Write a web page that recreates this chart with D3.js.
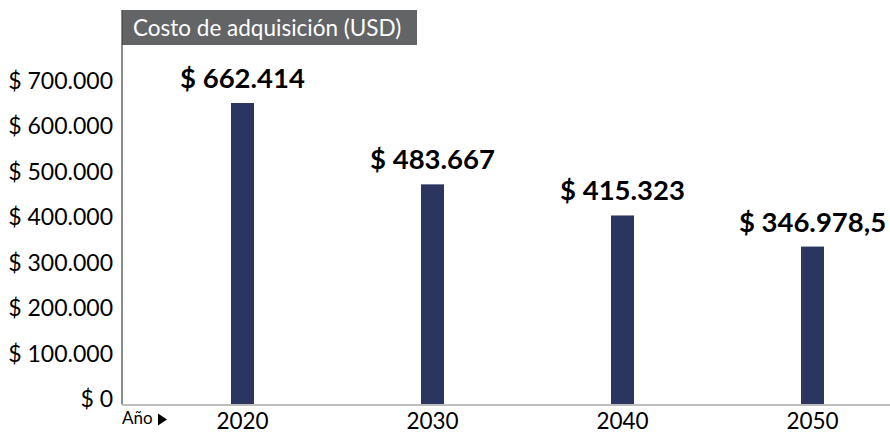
<!DOCTYPE html>
<html>
<head>
<meta charset="utf-8">
<script src="https://cdn.jsdelivr.net/npm/d3@7"></script>
<style>
  body { margin: 0; background: #fff; }
  svg { display: block; font-family: Lato, "Noto Sans", sans-serif; }
</style>
</head>
<body>
<div id="chart"></div>
<script>
const years = ['2020', '2030', '2040', '2050'];
const costs = [662414, 483667, 415323, 346978.5];
const yTicks = [0, 100000, 200000, 300000, 400000, 500000, 600000, 700000];
const title = 'Costo de adquisición (USD)';
const xLabel = 'Año';

const width = 890;
const height = 434;
const plot = { left: 122, right: 890, top: 10, bottom: 404.5 };

const locale = d3.formatLocale({ decimal: ',', thousands: '.', grouping: [3], currency: ['$ ', ''] });
const fmtTick = locale.format(',');
const fmtValue = locale.format(',.1~f');

const svg = d3.select('#chart').append('svg')
    .attr('width', width)
    .attr('height', height);

const x = d3.scalePoint()
    .domain(years)
    .range([242.5, 812.5]);

const y = d3.scaleLinear()
    .domain([0, 700000])
    .range([plot.bottom, 85.9]);

const barWidth = 23;

// title box
svg.append('rect')
    .attr('x', plot.left)
    .attr('y', plot.top)
    .attr('width', 295)
    .attr('height', 35)
    .attr('fill', '#636466');
svg.append('text')
    .attr('x', plot.left + 11)
    .attr('y', plot.top + 26)
    .attr('fill', '#fff')
    .attr('font-size', 22.5)
    .text(title);

// bars
svg.append('g')
    .selectAll('rect')
    .data(costs)
    .join('rect')
    .attr('x', (d, i) => x(years[i]) - barWidth / 2)
    .attr('y', d => y(d))
    .attr('width', barWidth)
    .attr('height', d => y(0) - y(d))
    .attr('fill', '#2b3660');

// value labels
svg.append('g')
    .selectAll('text')
    .data(costs)
    .join('text')
    .attr('x', (d, i) => x(years[i]))
    .attr('y', d => y(d) - 15)
    .attr('text-anchor', 'middle')
    .attr('font-size', 27.5)
    .attr('font-weight', 'bold')
    .attr('fill', '#000')
    .text(d => '$ ' + fmtValue(d));

// y axis
const yAxis = svg.append('g')
    .attr('transform', `translate(${plot.left},0)`)
    .call(d3.axisLeft(y).tickValues(yTicks).tickSize(0).tickPadding(9)
        .tickFormat(d => '$ ' + fmtTick(d)));
yAxis.select('.domain').remove();
yAxis.selectAll('text')
    .attr('font-size', 23)
    .attr('font-family', 'Lato, "Noto Sans", sans-serif')
    .attr('fill', '#000')
    .attr('dy', '0.1em');
svg.append('line')
    .attr('x1', plot.left).attr('x2', plot.left)
    .attr('y1', plot.top).attr('y2', plot.bottom)
    .attr('stroke', '#404040')
    .attr('stroke-width', 1.2);

// x axis
svg.append('line')
    .attr('x1', plot.left).attr('x2', plot.right)
    .attr('y1', plot.bottom + 0.5).attr('y2', plot.bottom + 0.5)
    .attr('stroke', '#bdbdbd')
    .attr('stroke-width', 2);
svg.append('g')
    .selectAll('text')
    .data(years)
    .join('text')
    .attr('x', d => x(d))
    .attr('y', 429)
    .attr('text-anchor', 'middle')
    .attr('font-size', 22.5)
    .attr('fill', '#000')
    .text(d => d);

// "Año" marker
svg.append('text')
    .attr('x', plot.left)
    .attr('y', 424)
    .attr('font-size', 17)
    .attr('fill', '#000')
    .text(xLabel);
svg.append('path')
    .attr('d', 'M158,413.5 L167,419.5 L158,425.5 Z')
    .attr('fill', '#000');
</script>
</body>
</html>
